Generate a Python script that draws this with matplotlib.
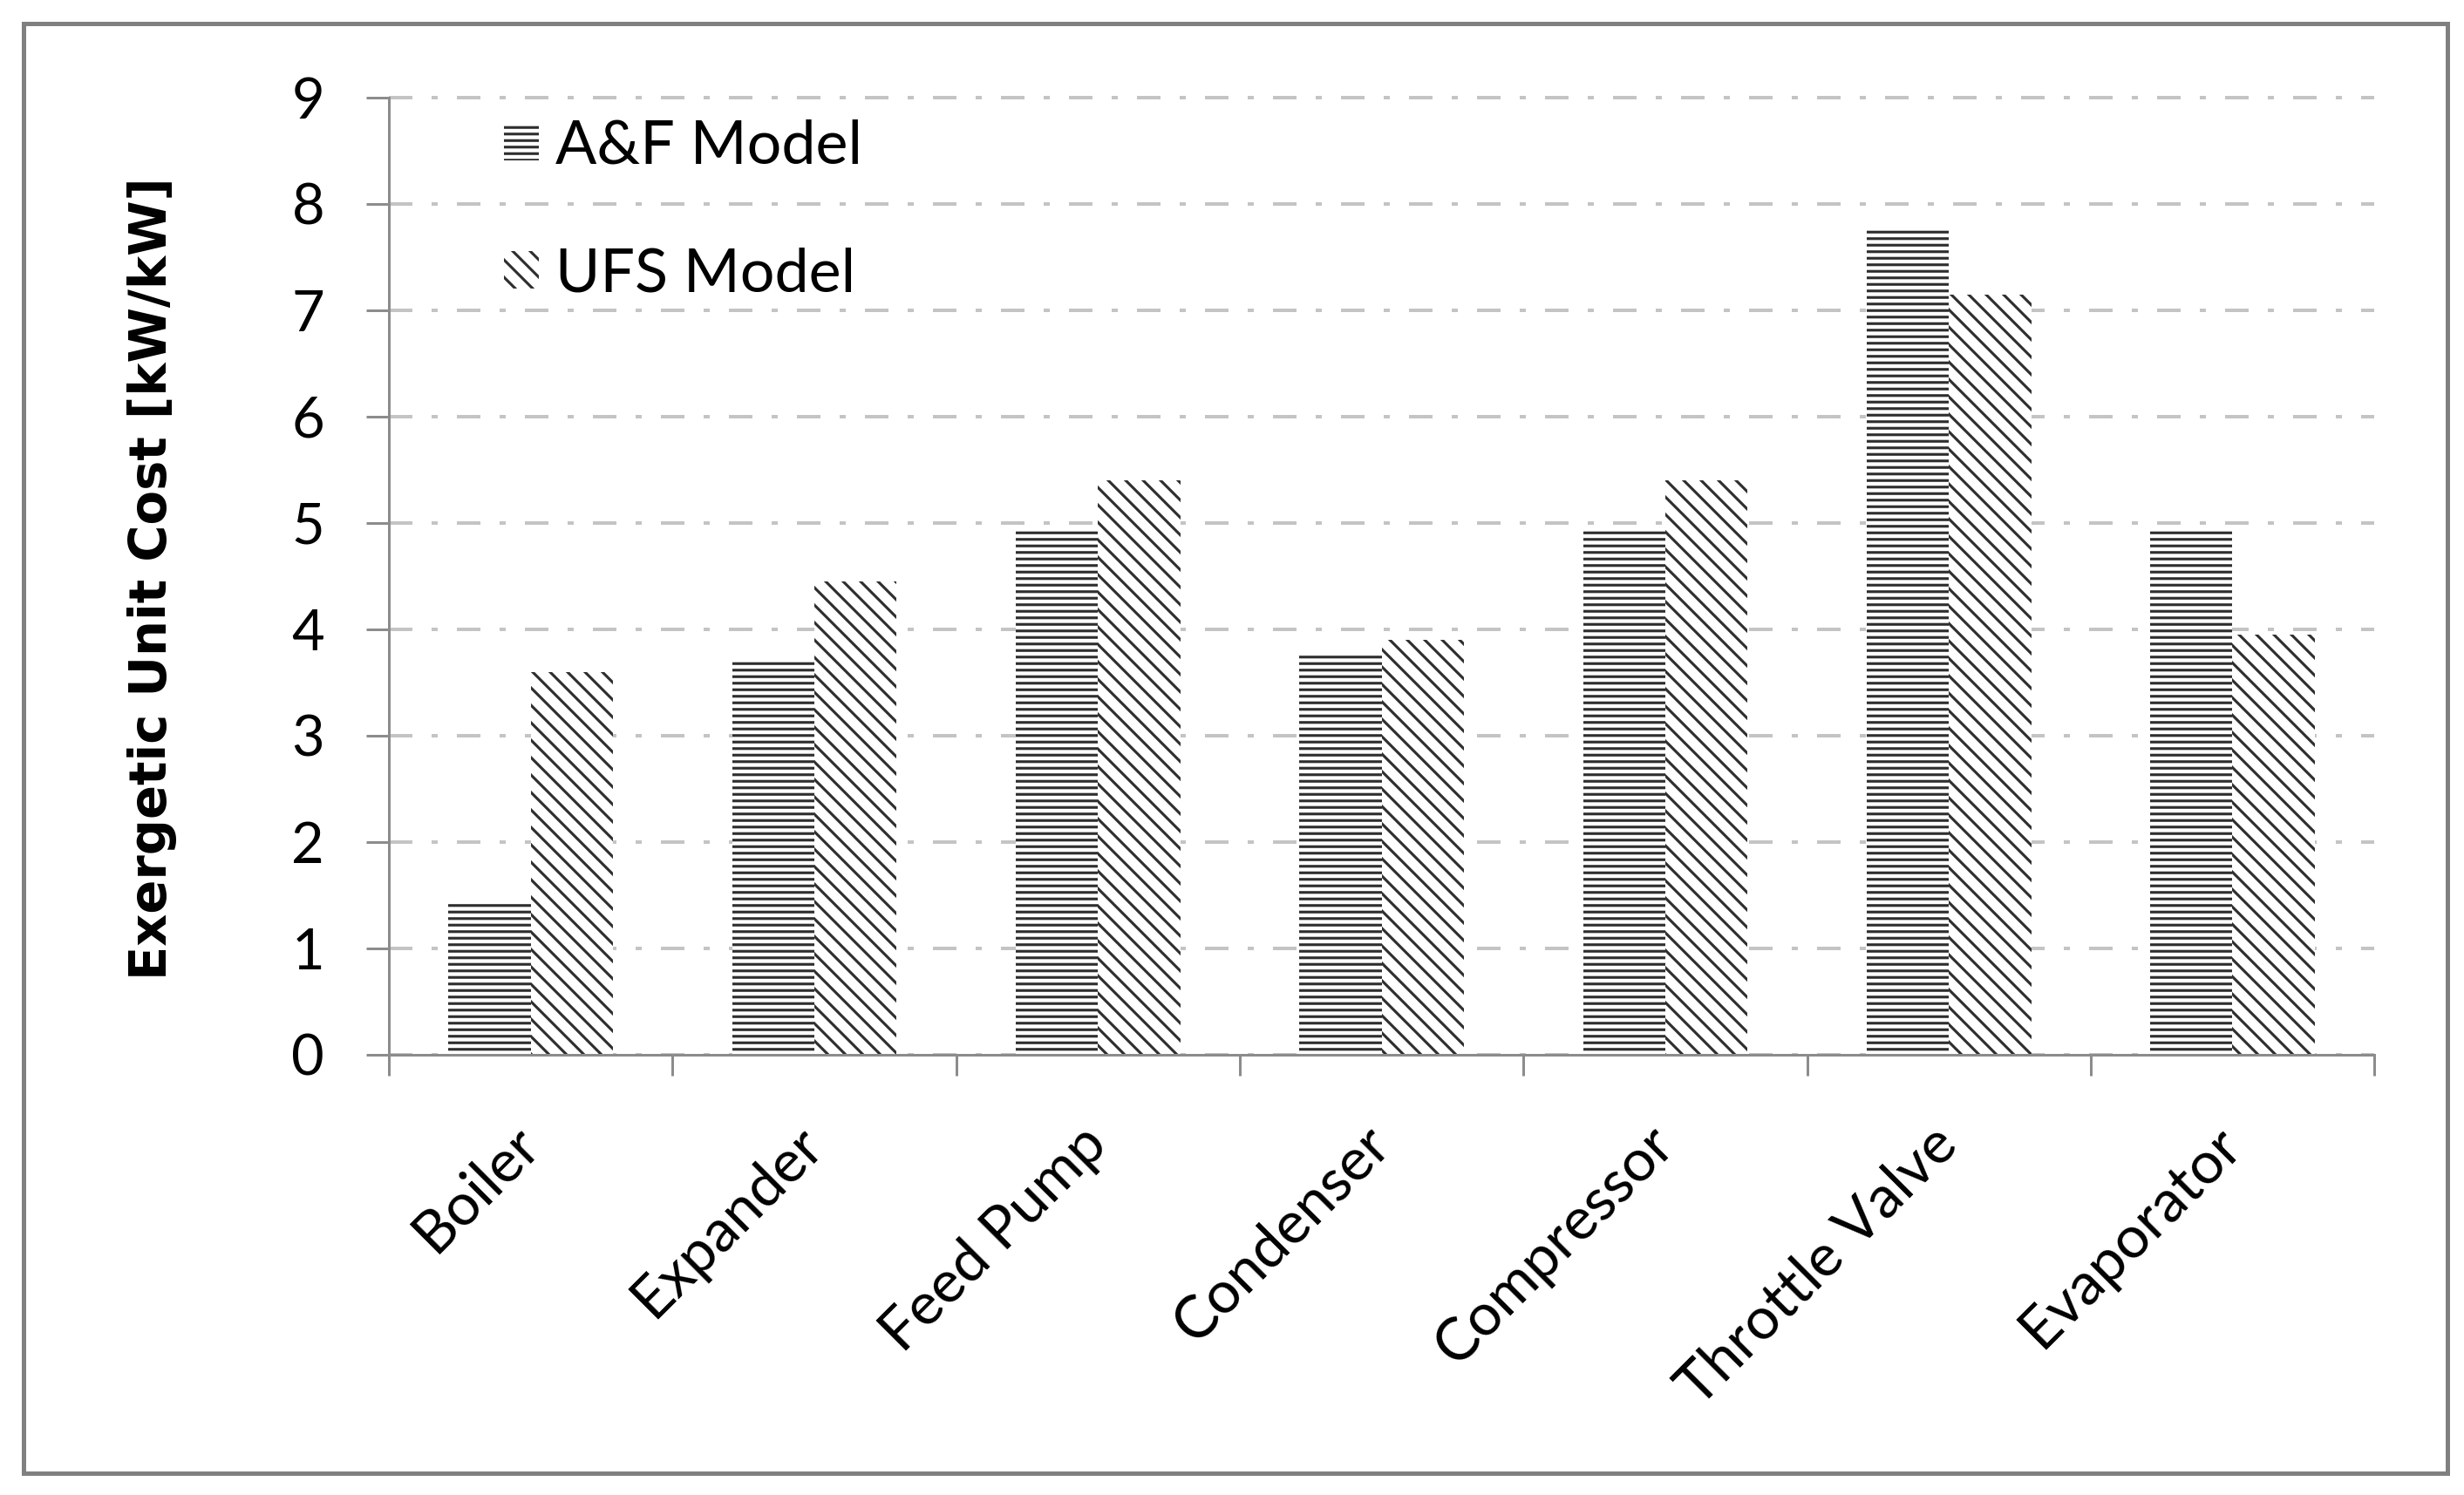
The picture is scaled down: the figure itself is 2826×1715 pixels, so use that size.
import matplotlib
matplotlib.use("Agg")
import matplotlib.pyplot as plt
import matplotlib.patches as mpatches
import numpy as np

# data
components = ["Boiler", "Expander", "Feed Pump", "Condenser",
              "Compressor", "Throttle Valve", "Evaporator"]
af_model = [1.45, 3.72, 4.95, 3.75, 4.95, 7.75, 4.95]
ufs_model = [3.60, 4.45, 5.40, 3.90, 5.40, 7.15, 3.95]
y_ticks = [0, 1, 2, 3, 4, 5, 6, 7, 8, 9]

plt.rcParams['hatch.linewidth'] = 1.25
plt.rcParams['font.family'] = ['Lato', 'DejaVu Sans']

axis_grey = '#8c8c8c'
hatch_col = '#2e2e2e'
back = chr(92)  # backslash, for the diagonal hatch

fig = plt.figure(figsize=(2826 / 180, 1715 / 180), dpi=180)
ax = fig.add_axes([0.1578, 0.2945, 0.8058, 0.6402])

x = np.arange(len(components))
w = 0.29

ax.bar(x - w / 2, af_model, w, color='white', edgecolor=hatch_col,
       linewidth=0, hatch='----', label='A&F Model', zorder=3)
ax.bar(x + w / 2, ufs_model, w, color='white', edgecolor=hatch_col,
       linewidth=0, hatch=back * 3, label='UFS Model', zorder=3)

ax.set_xlim(-0.5, len(components) - 0.5)
ax.set_ylim(0, 9)
ax.set_yticks(y_ticks)
ax.set_yticklabels([str(v) for v in y_ticks], fontsize=26)

# category labels at centres, tick marks at the boundaries
ax.set_xticks(x)
ax.set_xticklabels(components, fontsize=27, rotation=45,
                   ha='right', va='center', rotation_mode='anchor')
ax.set_xticks(np.arange(-0.5, len(components)), minor=True)
ax.tick_params(axis='x', which='major', length=0, pad=37)
ax.tick_params(axis='x', which='minor', length=9.5, width=1.2,
               color=axis_grey, direction='out')
ax.tick_params(axis='y', length=10.5, width=1.2, color=axis_grey,
               direction='out', pad=19)

for side in ['top', 'right']:
    ax.spines[side].set_visible(False)
for side in ['left', 'bottom']:
    ax.spines[side].set_color(axis_grey)
    ax.spines[side].set_linewidth(1.2)
    ax.spines[side].set_zorder(4)

# dash-dot grey gridlines
ax.yaxis.grid(True, color='#c4c4c4', linewidth=1.6,
              linestyle=(0, (6.75, 5.5, 1.75, 5.5)), zorder=0)
ax.set_axisbelow(True)
for gl in ax.get_ygridlines():
    gl.set_clip_on(False)

fig.text(175 / 2826, 0.613, "Exergetic Unit Cost [kW/kW]", rotation=90,
         ha='center', va='center', fontsize=23, fontweight='bold',
         family='DejaVu Sans')

ax.legend(loc='upper left', bbox_to_anchor=(0.058, 0.978), frameon=False,
          fontsize=28, borderpad=0, borderaxespad=0, handlelength=0.57,
          handleheight=0.57, handletextpad=0.27, labelspacing=1.2)

# outer chart border
fig.patches.append(mpatches.Rectangle((27 / 2826, 25 / 1715),
                                      (2807 - 27) / 2826, (1690 - 27) / 1715,
                                      transform=fig.transFigure, fill=False,
                                      edgecolor='#808080', linewidth=2))

fig.savefig("out.png", dpi=180)
